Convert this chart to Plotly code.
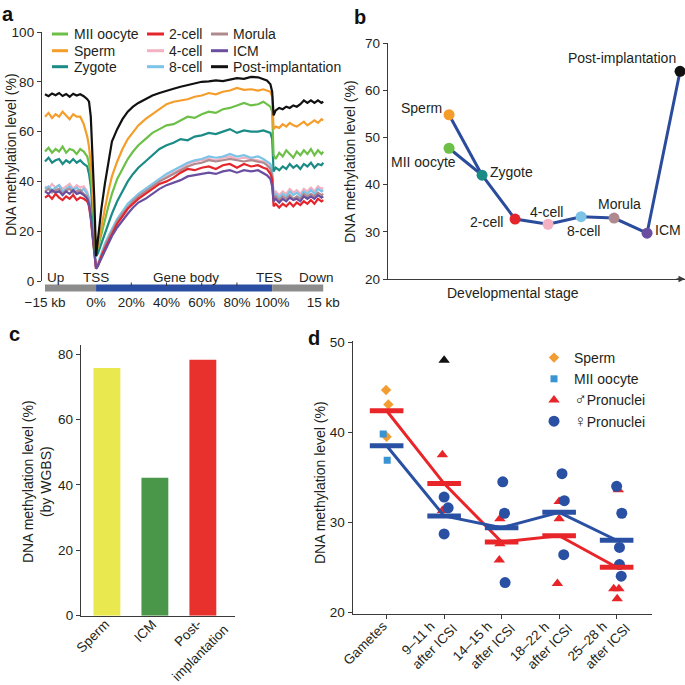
import plotly.graph_objects as go

# ======================= DATA =======================
# ---- panel a: metaprofile around genes (x: -29..0 upstream, 0..100 % gene body, 100..129 downstream)
A_X_UP = [-29, -27, -25, -23, -21, -19, -17, -15, -13, -11, -9, -7, -5, -4, -3, -2, -1, 0]
A_X_BODY = [1, 2, 3, 5, 7, 9, 12, 15, 18, 21, 24, 28, 32, 36, 40, 44, 48, 52, 56, 60,
            64, 68, 72, 76, 80, 84, 88, 92, 95, 97, 99, 100]
A_X_DOWN = [100.8, 102, 104, 106, 108, 110, 112, 114, 116, 118, 120, 122, 124, 126, 128, 129]

A_POST = ([75.0, 74.2, 75.3, 74.6, 75.5, 74.3, 75.1, 74.0, 75.2, 74.5, 75.0, 74.2, 73.0, 72.0, 66.0, 52.0, 33.0, 10.0]
          + [17, 23, 29, 39, 48, 56, 61, 65, 68, 70, 71.5, 73, 74.5, 75.5, 76.5, 77.2, 78, 78.6, 79.5, 80,
             80.2, 80.6, 80.3, 81, 81.5, 81.2, 82, 81.8, 81.2, 80.5, 79, 76]
          + [66.5, 68.5, 69.5, 69, 70, 69.5, 70.5, 70, 71, 72.5, 71.5, 72.5, 71.5, 72.5, 71.5, 72])
A_SPERM = ([66, 67.5, 65.5, 67, 66, 68, 66.5, 65, 67, 66, 66, 63, 58, 54, 47, 38, 24, 12]
           + [14, 18, 22, 29, 36, 42, 48, 53, 57, 60, 62.5, 65, 67, 69, 71, 72, 72.5, 73, 74, 74.5,
              75.5, 75, 76, 76.5, 77.5, 76.8, 77, 76.5, 77, 76.5, 76, 74]
           + [61, 62, 61.5, 63, 62, 63.5, 62.5, 62, 63, 64, 62.5, 63.5, 64.5, 63.5, 65, 64.5])
A_MII = ([52, 53.5, 51.5, 53, 52, 54, 51.5, 53, 52.5, 51, 53, 52, 50, 47, 42, 34, 22, 12]
         + [13, 16, 19, 25, 30, 35, 41, 45, 49, 52, 54.5, 57, 59.5, 61, 62.5, 63, 64.5, 66, 65.5, 67,
            68, 67.5, 69, 69.5, 70.5, 71.5, 70.5, 71, 72, 71, 70, 68]
         + [50.5, 49, 51.5, 50, 52.5, 51, 49.5, 52, 50.5, 52.5, 51, 53, 50.5, 52.5, 51, 52])
A_ZYGOTE = ([48, 49.5, 47.5, 48.5, 49, 47, 48.5, 47.5, 49, 47.5, 48.5, 47, 46, 43, 38, 30, 19, 10]
            + [11, 13, 15, 19, 23, 27, 32, 36, 40, 43, 45.5, 48, 50.5, 53, 54.5, 55.5, 57, 56.5, 58, 58.5,
               59.5, 59, 60, 61, 59.5, 60.5, 60, 60, 60.5, 60, 59.5, 57]
            + [44, 45.5, 44.5, 46, 45, 47, 45.5, 46.5, 45, 47, 46, 47.5, 45.5, 47, 46.5, 47.5])
A_8CELL = ([37, 38, 36.5, 37.5, 38.5, 36, 37, 38, 36.5, 37.5, 36, 37, 35, 33, 28, 20, 12, 6]
           + [7, 9, 11, 15, 18, 21, 25, 28, 31, 33, 35, 37, 39, 41, 43, 44.5, 46, 47.5, 48.5, 49,
              50, 49.5, 50, 51, 50, 50.5, 49.5, 50, 49, 48, 47, 44]
           + [34, 35, 33.5, 35, 34, 36, 34.5, 35.5, 34, 36, 35, 36.5, 35, 37, 36, 36.5])
A_4CELL = ([38, 37, 39, 37.5, 38.5, 37, 38, 39, 37, 38.5, 37.5, 38, 36, 33, 28, 20, 12, 5]
           + [6, 8, 10, 14, 17, 20, 24, 27, 30, 32, 34, 36, 38, 40, 42, 43.5, 45, 47, 48, 48.5,
              49, 48.5, 49.5, 50, 49, 49.5, 49, 48.5, 48, 47, 46, 43]
           + [35, 36, 34.5, 36, 35, 37, 35.5, 36.5, 35, 37, 36, 37.5, 36, 38, 37, 37.5])
A_MORULA = ([36, 37, 35.5, 36.5, 37, 35, 36.5, 37, 35.5, 36, 36.5, 35, 34, 31, 26, 18, 10, 5]
            + [6, 8, 10, 14, 17, 20, 24, 27, 29.5, 32, 34, 36, 38, 40, 41.5, 43, 44.5, 46, 47, 47.5,
               48.5, 48, 48.5, 49, 48.5, 48, 48.5, 48, 47.5, 46.5, 45, 42]
            + [33, 34, 32.5, 34, 33, 34.5, 33, 34, 33, 35, 34, 35, 34, 35.5, 34.5, 35])
A_2CELL = ([33.5, 34.5, 33, 35, 33.5, 32.5, 34, 33, 34.5, 32.5, 33.5, 33, 32, 30, 25, 18, 10, 5]
           + [6, 8, 10, 13, 16, 19, 23, 26, 29, 31, 33, 35, 37, 39, 40, 41.5, 43.5, 45, 44.5, 45.5,
              46, 45, 46.5, 47, 45.5, 47, 46, 46.5, 45.5, 45, 43, 41]
           + [30, 31, 29.5, 31, 30, 31.5, 30, 31.5, 30.5, 32, 31, 32.5, 31, 33, 32, 32.5])
A_ICM = ([36, 35, 36.5, 35.5, 36, 34.5, 36, 35, 36.5, 35, 35.5, 34.5, 33, 31, 26, 18, 10, 5]
         + [6, 7.5, 9, 12, 15, 18, 21.5, 24.5, 27, 29.5, 31.5, 33, 35, 37, 38.5, 39.5, 40.5, 42, 42.5, 43,
            43.5, 43, 44, 44.5, 43.5, 44.5, 44, 44.5, 43.5, 42.5, 41, 38]
         + [32, 33, 31.5, 33, 32, 33.5, 32.5, 33, 32, 34, 33, 34, 33, 34.5, 33.5, 34])

A_TICK_VALS = [-29, 0, 20, 40, 60, 80, 100, 129]
A_TICK_TEXT = ["\u221215 kb", "0%", "20%", "40%", "60%", "80%", "100%", "15 kb"]
A_REGION_TEXT = ["Up", "TSS", "Gene body", "TES", "Down"]
A_UP_START, A_TSS, A_TES, A_DOWN_END = -29, 0, 100, 129
A_BODY_MARKS = [20, 40, 60, 80]

# ---- panel b
B_STAGES = ["Sperm", "MII oocyte", "Zygote", "2-cell", "4-cell", "8-cell", "Morula", "ICM", "Post-implantation"]
B_STAGE_POS = [1, 1, 2, 3, 4, 5, 6, 7, 8]
B_VALUES = [54.8, 47.7, 42.0, 32.7, 31.6, 33.2, 32.9, 29.7, 64.0]

# ---- panel c
C_CATS = ["Sperm", "ICM", "Post-<br>implantation"]
C_VALUES = [75.8, 42.2, 78.3]

# ---- panel d
D_CATS = ["Gametes", "9\u201311 h<br>after ICSI", "14\u201315 h<br>after ICSI",
          "18\u201322 h<br>after ICSI", "25\u201328 h<br>after ICSI"]
D_SPERM_X = [-0.01, 0.03, 0.0]
D_SPERM_Y = [44.7, 43.1, 39.5]
D_MII_X = [-0.06, 0.01]
D_MII_Y = [39.8, 36.9]
D_MALE_X = [0.97, 0.97, 1.97, 1.97, 1.96, 3.0, 3.0, 2.97, 4.03, 3.95, 4.04, 4.01, 4.0]
D_MALE_Y = [37.5, 31.3, 30.4, 27.6, 25.8, 32.3, 30.4, 23.2, 33.6, 22.6, 22.6, 21.5, 25.2]
D_OUTLIER_X = [1.0]
D_OUTLIER_Y = [48.0]
D_FEMALE_X = [1.0, 1.07, 1.0, 2.02, 2.05, 2.06, 3.05, 3.09, 3.08, 4.0, 4.09, 4.05, 4.05, 4.08]
D_FEMALE_Y = [32.8, 31.6, 28.7, 34.5, 31.0, 23.3, 35.4, 32.4, 26.4, 34.0, 31.0, 27.2, 25.3, 24.0]
D_MALE_MEAN = [42.4, 34.3, 27.8, 28.5, 25.0]
D_FEMALE_MEAN = [38.5, 30.7, 29.4, 31.1, 28.0]

# ======================= STYLE =======================
FONT = "Liberation Sans, Arial, Helvetica, sans-serif"
TXT = "#231f20"
AX = "#3a3a3a"
W = H = 685

COL = {"MII oocyte": "#6cbf47", "Sperm": "#f59d2a", "Zygote": "#1b8b86", "2-cell": "#e4252b",
       "4-cell": "#f3b1c2", "8-cell": "#7cc3e8", "Morula": "#ae8a8e", "ICM": "#6a4ea0",
       "Post-implantation": "#111111"}
BLUE_LINE = "#2b4c9c"
D_RED = "#e8262a"
D_BLUE = "#2a50a4"


def px(x):
    return x / W


def py(y):
    return 1 - y / H


fig = go.Figure()

# ---------- panel a ----------
A_X = A_X_UP + A_X_BODY + A_X_DOWN
A_SERIES = {"MII oocyte": A_MII, "Sperm": A_SPERM, "Zygote": A_ZYGOTE, "2-cell": A_2CELL,
            "4-cell": A_4CELL, "8-cell": A_8CELL, "Morula": A_MORULA, "ICM": A_ICM,
            "Post-implantation": A_POST}
draw_order = ["4-cell", "8-cell", "Morula", "2-cell", "ICM", "Zygote", "MII oocyte", "Sperm", "Post-implantation"]
for name in draw_order:
    fig.add_trace(go.Scatter(x=A_X, y=A_SERIES[name], mode="lines", name=name,
                             line=dict(color=COL[name], width=2.2), xaxis="x", yaxis="y",
                             showlegend=False, hoverinfo="skip"))

# ---------- panel b ----------
fig.add_trace(go.Scatter(x=[B_STAGE_POS[0], B_STAGE_POS[2]], y=[B_VALUES[0], B_VALUES[2]],
                         mode="lines", line=dict(color=BLUE_LINE, width=3), xaxis="x2", yaxis="y2",
                         showlegend=False, cliponaxis=False))
fig.add_trace(go.Scatter(x=B_STAGE_POS[1:], y=B_VALUES[1:], mode="lines",
                         line=dict(color=BLUE_LINE, width=3), xaxis="x2", yaxis="y2",
                         showlegend=False, cliponaxis=False))
fig.add_trace(go.Scatter(x=B_STAGE_POS, y=B_VALUES, mode="markers",
                         marker=dict(size=11, color=[COL[s] for s in B_STAGES]),
                         xaxis="x2", yaxis="y2", showlegend=False, cliponaxis=False))

# ---------- panel c ----------
C_IDX = list(range(len(C_CATS)))
fig.add_trace(go.Bar(x=C_IDX, y=C_VALUES, width=0.56,
                     marker=dict(color=["#e9e84f", "#4a974a", "#e8302d"], line=dict(width=0)),
                     xaxis="x3", yaxis="y3", showlegend=False))

# ---------- panel d ----------
SYM = "<span style='font-size:17px'>%s</span>"
fig.add_trace(go.Scatter(x=D_SPERM_X, y=D_SPERM_Y, mode="markers", name="Sperm",
                         marker=dict(symbol="diamond", size=8, color="#f39c32"),
                         xaxis="x4", yaxis="y4", legend="legend2"))
fig.add_trace(go.Scatter(x=D_MII_X, y=D_MII_Y, mode="markers", name="MII oocyte",
                         marker=dict(symbol="square", size=7, color="#3a93d2"),
                         xaxis="x4", yaxis="y4", legend="legend2"))
fig.add_trace(go.Scatter(x=D_MALE_X, y=D_MALE_Y, mode="markers", name=(SYM % "\u2642") + "Pronuclei",
                         marker=dict(symbol="triangle-up", size=10, color=D_RED),
                         xaxis="x4", yaxis="y4", legend="legend2"))
fig.add_trace(go.Scatter(x=D_FEMALE_X, y=D_FEMALE_Y, mode="markers", name=(SYM % "\u2640") + "Pronuclei",
                         marker=dict(symbol="circle", size=11, color=D_BLUE),
                         xaxis="x4", yaxis="y4", legend="legend2"))
fig.add_trace(go.Scatter(x=D_OUTLIER_X, y=D_OUTLIER_Y, mode="markers",
                         marker=dict(symbol="triangle-up", size=10, color="#111111"),
                         xaxis="x4", yaxis="y4", showlegend=False))
D_IDX = list(range(len(D_CATS)))
fig.add_trace(go.Scatter(x=D_IDX, y=D_MALE_MEAN, mode="lines", line=dict(color=D_RED, width=3),
                         xaxis="x4", yaxis="y4", showlegend=False))
fig.add_trace(go.Scatter(x=D_IDX, y=D_FEMALE_MEAN, mode="lines", line=dict(color=D_BLUE, width=3),
                         xaxis="x4", yaxis="y4", showlegend=False))
fig.add_trace(go.Scatter(x=D_IDX, y=D_MALE_MEAN, mode="markers",
                         marker=dict(symbol="line-ew", size=24, line=dict(width=5, color=D_RED)),
                         xaxis="x4", yaxis="y4", showlegend=False))
fig.add_trace(go.Scatter(x=D_IDX, y=D_FEMALE_MEAN, mode="markers",
                         marker=dict(symbol="line-ew", size=24, line=dict(width=5, color=D_BLUE)),
                         xaxis="x4", yaxis="y4", showlegend=False))

# ======================= LAYOUT =======================
tickfont = dict(family=FONT, size=13.5, color=TXT)
yax_common = dict(showline=True, linecolor=AX, linewidth=1.3, ticks="outside", ticklen=4,
                  tickcolor=AX, tickwidth=1.2, showgrid=False, zeroline=False, tickfont=tickfont,
                  automargin=False, fixedrange=True)

layout = dict(
    width=W, height=H, margin=dict(l=0, r=0, t=0, b=0),
    paper_bgcolor="white", plot_bgcolor="rgba(0,0,0,0)",
    font=dict(family=FONT, size=14, color=TXT),
    showlegend=True,
    legend=dict(visible=False),
    legend2=dict(x=px(534), y=py(342), xanchor="left", yanchor="top", bgcolor="rgba(0,0,0,0)",
                 font=dict(family=FONT, size=14, color=TXT), tracegroupgap=0, itemwidth=30),
    # panel a
    xaxis=dict(domain=[px(42), px(325)], range=[-30.7, 130], anchor="y", showline=False, ticks="",
               tickvals=A_TICK_VALS, ticktext=A_TICK_TEXT, ticklabelstandoff=11, showgrid=False,
               zeroline=False, tickfont=tickfont, automargin=False, fixedrange=True),
    yaxis=dict(domain=[py(281), py(32)], range=[0, 100], anchor="x",
               tickvals=[0, 20, 40, 60, 80, 100], **yax_common),
    # panel b
    xaxis2=dict(domain=[px(388), 1.0], range=[-0.85, 8.15], anchor="y2", showline=True,
                linecolor=AX, linewidth=1.3, ticks="", showticklabels=False, showgrid=False,
                zeroline=False, automargin=False, fixedrange=True),
    yaxis2=dict(domain=[py(279), py(43)], range=[20, 70], anchor="x2",
                tickvals=[20, 30, 40, 50, 60, 70], **yax_common),
    # panel c
    xaxis3=dict(domain=[px(81), px(235)], range=[-0.54, 2.67], anchor="y3", showline=True,
                linecolor=AX, linewidth=1.3, ticks="", tickvals=C_IDX, showticklabels=False,
                showgrid=False, zeroline=False, automargin=False, fixedrange=True),
    yaxis3=dict(domain=[py(615.7), py(345)], range=[0, 82.8], anchor="x3",
                tickvals=[0, 20, 40, 60, 80], **yax_common),
    # panel d
    xaxis4=dict(domain=[px(352.7), px(651.7)], range=[-0.59, 4.61], anchor="y4", showline=True,
                linecolor=AX, linewidth=1.3, ticks="outside", ticklen=4, tickcolor=AX,
                tickvals=D_IDX, showticklabels=False, showgrid=False, zeroline=False,
                automargin=False, fixedrange=True),
    yaxis4=dict(domain=[py(614), py(341)], range=[19.8, 50.15], anchor="x4",
                tickvals=[20, 30, 40, 50], **yax_common),
)

shapes = []
# gene model bar under panel a
bar_y0, bar_y1 = py(291.5), py(284.5)
for x0, x1, c in [(A_UP_START, A_TSS, "#8c8c8c"), (A_TSS, A_TES, "#2b4ea2"), (A_TES, A_DOWN_END, "#8c8c8c")]:
    shapes.append(dict(type="rect", xref="x", yref="paper", x0=x0, x1=x1, y0=bar_y0, y1=bar_y1,
                       fillcolor=c, line=dict(width=0), layer="above"))
for m in A_BODY_MARKS:
    shapes.append(dict(type="line", xref="x", yref="paper", x0=m, x1=m, y0=py(286), y1=py(282.5),
                       line=dict(color="#333333", width=1)))

# manual legend for panel a
leg_cols = [(52, 68, 72), (147, 164, 167), (211, 228, 231)]
leg_rows = [34, 50.7, 66.7]
leg_items = [["MII oocyte", "Sperm", "Zygote"], ["2-cell", "4-cell", "8-cell"],
             ["Morula", "ICM", "Post-implantation"]]
annotations = []
for (lx0, lx1, tx), names in zip(leg_cols, leg_items):
    for ry, nm in zip(leg_rows, names):
        shapes.append(dict(type="line", xref="paper", yref="paper", x0=px(lx0), x1=px(lx1),
                           y0=py(ry), y1=py(ry), line=dict(color=COL[nm], width=3)))
        annotations.append(dict(x=px(tx), y=py(ry), xref="paper", yref="paper", text=nm,
                                showarrow=False, xanchor="left", yanchor="middle",
                                font=dict(size=14)))

# region labels panel a
for txt, xv in zip(A_REGION_TEXT, [-23.3, 0, 51, 98.3, 125]):
    annotations.append(dict(x=xv, y=py(277.5), xref="x", yref="paper", text=txt, showarrow=False,
                            xanchor="center", yanchor="middle", font=dict(size=13.5)))

# panel b point labels
b_lab = {"Sperm": ("right", -5, 7), "MII oocyte": ("center", -26, -14), "Zygote": ("left", 6, 3),
         "2-cell": ("right", -10, -3), "4-cell": ("center", -2, 12), "8-cell": ("center", 2, -14),
         "Morula": ("center", 5, 14), "ICM": ("left", 6, 3), "Post-implantation": ("right", -2, 13)}
for s, xv, yv in zip(B_STAGES, B_STAGE_POS, B_VALUES):
    xa, xs, ys = b_lab[s]
    annotations.append(dict(x=xv, y=yv, xref="x2", yref="y2", text=s, showarrow=False,
                            xanchor=xa, yanchor="middle", xshift=xs, yshift=ys, font=dict(size=14)))
# arrow on panel b x axis
annotations.append(dict(x=1, y=0, xref="x2 domain", yref="y2 domain", ax=-10, ay=0, text="",
                        showarrow=True, arrowhead=2, arrowsize=1, arrowwidth=1.3, arrowcolor=AX))


# rotated category labels (c and d): each text line is placed on its own, anchored at its tick
def rotated_labels(cats, xref, line_pos, first_index=0):
    out = []
    for i, lab in enumerate(cats):
        lines = lab.split("<br>")
        for ln, (xs, top) in zip(lines, line_pos[len(lines)]):
            out.append(dict(x=first_index + i, y=py(top - 4), xref=xref, yref="paper", text=ln,
                            textangle=-45, showarrow=False, xanchor="right", yanchor="top",
                            xshift=xs, font=dict(size=13.5)))
    return out


annotations += rotated_labels(C_CATS[:2], "x3", {1: [(8, 618)]})
annotations += rotated_labels(C_CATS[2:], "x3", {2: [(5, 617), (32, 623)]}, first_index=2)
annotations += rotated_labels(D_CATS, "x4", {1: [(6, 620)], 2: [(-4, 620), (19, 622)]})

# axis titles
ttl = dict(xref="paper", yref="paper", showarrow=False, xanchor="center", yanchor="middle",
           font=dict(size=14))
annotations += [
    dict(x=px(11), y=py(155), text="DNA methylation level (%)", textangle=-90, **ttl),
    dict(x=px(350), y=py(162), text="DNA methylation level (%)", textangle=-90, **ttl),
    dict(x=px(513), y=py(293), text="Developmental stage", **ttl),
    dict(x=px(37), y=py(482), text="DNA methylation level (%)<br>(by WGBS)", textangle=-90, **ttl),
    dict(x=px(320), y=py(483), text="DNA methylation level (%)", textangle=-90, **ttl),
]
# panel letters
for letter, lx, ly in [("a", 0, 14), ("b", 352, 17), ("c", 7, 334), ("d", 306, 337.5)]:
    annotations.append(dict(x=px(lx), y=py(ly), xref="paper", yref="paper", text="<b>%s</b>" % letter,
                            showarrow=False, xanchor="left", yanchor="middle",
                            font=dict(size=20, color="#111111")))

layout["shapes"] = shapes
layout["annotations"] = annotations
fig.update_layout(**layout)

fig.write_html("out.html")
